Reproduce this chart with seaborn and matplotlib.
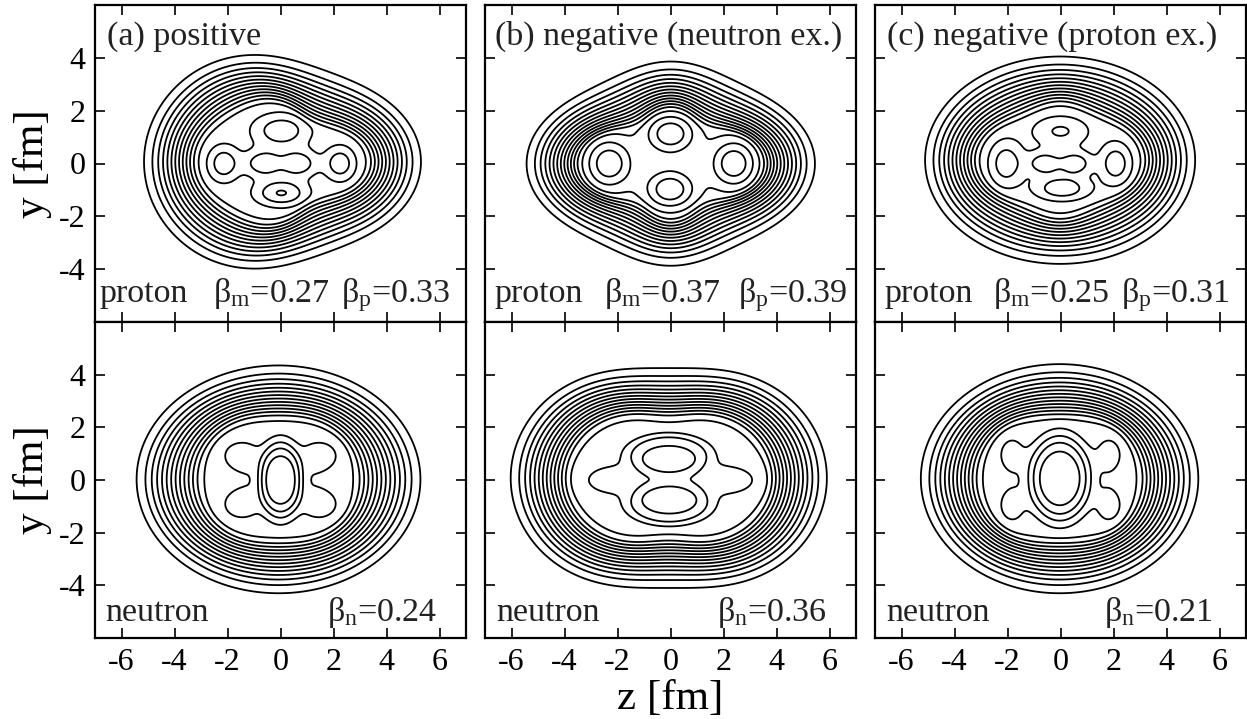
import numpy as np
import matplotlib
matplotlib.use("Agg")
import matplotlib.pyplot as plt
import seaborn as sns

sns.set_theme(style="ticks")
plt.rcParams["font.family"] = ["Liberation Serif", "DejaVu Serif"]
plt.rcParams["mathtext.fontset"] = "custom"
plt.rcParams["mathtext.rm"] = "Liberation Serif"
plt.rcParams["mathtext.it"] = "Liberation Serif:italic"
plt.rcParams["axes.unicode_minus"] = False

# ---------------- text / ticks ----------------
z_ticks = [-6, -4, -2, 0, 2, 4, 6]
y_ticks = [-4, -2, 0, 2, 4]
panel_titles = ["(a) positive", "(b) negative (neutron ex.)", "(c) negative (proton ex.)"]
beta_m = ["0.27", "0.37", "0.25"]
beta_p = ["0.33", "0.39", "0.31"]
beta_n = ["0.24", "0.36", "0.21"]

# contour levels (density, arbitrary units)
contour_levels = [0.07, 0.14, 0.21, 0.28, 0.35, 0.42, 0.49, 0.56, 0.63, 0.70,
                  0.77, 0.84, 0.91, 0.98, 1.05, 1.12, 1.19, 1.26, 1.33]

# ---------------- density shapes ----------------
# order: proton (a), proton (b), proton (c), neutron (a), neutron (b), neutron (c)
plateau = [0.925, 0.925, 0.925, 0.99, 0.99, 0.99]
# extent of the outermost contour [fm]
outer_zl = [-5.15, -5.43, -5.11, -5.43, -6.03, -5.27]
outer_zr = [5.30, 5.45, 5.08, 5.28, 5.90, 5.20]
outer_yt = [4.00, 3.86, 4.05, 4.35, 4.25, 4.40]
outer_yb = [-3.87, -3.87, -3.80, -4.30, -4.10, -4.30]
# width of the surface region along z, along y and extra width on the diagonals [fm]
surf_wz = [1.77, 1.70, 1.77, 2.29, 2.00, 2.02]
surf_wy = [1.40, 1.40, 1.48, 1.72, 1.55, 1.73]
surf_wd = [0.35, 0.30, 0.35, -0.20, 0.0, -0.20]
# shape of the outer contour
surf_c1 = [-0.05, 0.0, 0.0, 0.0, 0.0, 0.0]
surf_c3 = [0.05, 0.0, 0.0, 0.0, 0.0, 0.0]
surf_c4 = [0.0, 0.04, 0.0, 0.0, -0.03, 0.0]

# inner density maxima: position, height, widths, profile exponent
bump_z = [
    [0.03, 0.03, -2.15, 2.25, -0.65, 0.68],
    [0.0, -0.02, -2.33, 2.4, 0.0],
    [0.0, 0.06, -2.05, 2.08, -0.62, 0.56],
    [0.0, 0.0, -1.55, 1.55, -1.55, 1.55],
    [-0.07, -0.05, 0.0, -2.4, 2.4],
    [-0.03, 0.0, -1.85, 1.85, -1.85, 1.85],
]
bump_y = [
    [1.25, -1.12, 0.0, 0.0, 0.0, 0.0],
    [1.15, -1.0, 0.0, 0.0, 0.0],
    [1.22, -0.95, 0.0, 0.0, 0.0, 0.0],
    [0.0, 0.0, 0.95, 0.95, -0.95, -0.95],
    [1.02, -0.98, 0.0, 0.0, 0.0],
    [0.07, 0.0, 1.0, 1.0, -1.0, -1.0],
]
bump_amp = [
    [0.175, 0.20, 0.175, 0.175, 0.18, 0.18],
    [0.24, 0.24, 0.25, 0.25, 0.03],
    [0.135, 0.18, 0.175, 0.175, 0.175, 0.175],
    [0.255, 0.065, 0.075, 0.075, 0.075, 0.075],
    [0.19, 0.19, 0.135, 0.06, 0.06],
    [0.28, 0.04, 0.075, 0.075, 0.075, 0.075],
]
bump_wz = [
    [1.1, 1.0, 0.6, 0.58, 0.7, 0.7],
    [0.95, 0.95, 0.88, 0.85, 1.8],
    [1.1, 1.05, 0.65, 0.6, 0.62, 0.62],
    [0.8, 1.8, 0.8, 0.8, 0.8, 0.8],
    [1.6, 1.6, 2.4, 0.9, 0.9],
    [1.15, 2.2, 0.6, 0.6, 0.6, 0.6],
]
bump_wy = [
    [0.65, 0.5, 0.69, 0.65, 0.5, 0.5],
    [0.75, 0.72, 0.94, 0.9, 1.2],
    [0.6, 0.45, 0.86, 0.78, 0.45, 0.45],
    [1.45, 1.6, 0.65, 0.65, 0.65, 0.65],
    [0.75, 0.75, 0.85, 0.5, 0.5],
    [1.65, 1.7, 0.8, 0.8, 0.8, 0.8],
]
bump_pow = [
    [2, 2, 2, 2, 2, 2],
    [2, 2, 2, 2, 2],
    [2, 2, 2, 2, 2, 2],
    [4, 2, 2, 2, 2, 2],
    [4, 4, 2, 2, 2],
    [4, 2, 2, 2, 2, 2],
]

S1, S2 = 0.35, 0.10   # rounding of the outer and inner edge of the surface

z_grid = np.linspace(-7, 7, 701)
y_grid = np.linspace(-6, 6, 601)
ZZ, YY = np.meshgrid(z_grid, y_grid)


def density(i):
    zc = 0.5 * (outer_zl[i] + outer_zr[i])
    yc = 0.5 * (outer_yt[i] + outer_yb[i])
    az = 0.5 * (outer_zr[i] - outer_zl[i])
    ay = 0.5 * (outer_yt[i] - outer_yb[i])
    dz = ZZ - zc
    dy = YY - yc
    r = np.hypot(dz, dy)
    phi = np.arctan2(dy, dz)
    r_out = az * ay / np.sqrt((ay * np.cos(phi)) ** 2 + (az * np.sin(phi)) ** 2)
    r_out = r_out * (1 + surf_c1[i] * np.cos(phi) + surf_c3[i] * np.cos(3 * phi)
                     + surf_c4[i] * (np.cos(4 * phi) - 1))
    w = (surf_wz[i] * np.cos(phi) ** 2 + surf_wy[i] * np.sin(phi) ** 2
         + surf_wd[i] * np.sin(2 * phi) ** 2)
    f1 = contour_levels[0] / plateau[i]
    x_out = S1 * np.log(np.exp(f1 * w / S1) - 1.0)
    x = r_out + x_out - r          # depth below the surface
    f = (S1 * np.logaddexp(0, x / S1) - S2 * np.logaddexp(0, (x - w) / S2)) / w
    S = np.zeros_like(ZZ)
    for bz, by, A, wz, wy, p in zip(bump_z[i], bump_y[i], bump_amp[i],
                                    bump_wz[i], bump_wy[i], bump_pow[i]):
        q2 = ((ZZ - bz) / wz) ** 2 + ((YY - by) / wy) ** 2
        S += A * np.exp(-q2 ** (p / 2.0))
    return f * (plateau[i] + S)


# ---------------- layout (pixels of a 1247 x 719 canvas) ----------------
W, H = 1247.0, 719.0
col_left = [95, 485, 875]
col_width = 371
row_top = [5, 322]
row_height = [317, 316]

title_x = [-6.55, -6.63, -6.56]
proton_x = [-6.82, -6.63, -6.63]
bm_x = [-2.54, -2.52, -2.53]
bp_x = [2.27, 2.53, 2.27]
neutron_x = [-6.63, -6.56, -6.56]
bn_x = [1.77, 1.77, 1.64]

fs_text = 24.5
fs_tick = 23
fs_label = 31

fig = plt.figure(figsize=(W / 100, H / 100), dpi=100)
for r in range(2):
    for c in range(3):
        ax = fig.add_axes([col_left[c] / W, 1 - (row_top[r] + row_height[r]) / H,
                           col_width / W, row_height[r] / H])
        i = r * 3 + c
        rho = density(i)
        ax.contour(ZZ, YY, rho, levels=contour_levels, colors="black",
                   linewidths=1.3)
        ax.set_xlim(-7, 7)
        ax.set_ylim(-6, 6)
        ax.set_xticks(z_ticks)
        ax.set_yticks(y_ticks)
        ax.tick_params(direction="in", top=True, right=True, length=7.5,
                       width=1.2, labelsize=fs_tick, colors="black",
                       pad=7)
        for s in ax.spines.values():
            s.set_linewidth(1.6)
            s.set_color("black")
        if c != 0:
            ax.set_yticklabels([])
        else:
            ax.set_ylabel("y [fm]", fontsize=fs_label, color="black")
            ax.yaxis.set_label_coords(-0.115, 0.5)
        if r == 0:
            ax.set_xticklabels([])
            ax.text(title_x[c], 4.48, panel_titles[c], fontsize=fs_text,
                    ha="left", va="baseline", color="#222222")
            ax.text(proton_x[c], -5.26, "proton", fontsize=fs_text,
                    ha="left", va="baseline", color="#222222")
            ax.text(bm_x[c], -5.26, "β$_\\mathrm{m}$=" + beta_m[c],
                    fontsize=fs_text, ha="left", va="baseline", color="#222222")
            ax.text(bp_x[c], -5.26, "β$_\\mathrm{p}$=" + beta_p[c],
                    fontsize=fs_text, ha="left", va="baseline", color="#222222")
        else:
            ax.text(neutron_x[c], -5.37, "neutron", fontsize=fs_text,
                    ha="left", va="baseline", color="#222222")
            ax.text(bn_x[c], -5.37, "β$_\\mathrm{n}$=" + beta_n[c],
                    fontsize=fs_text, ha="left", va="baseline", color="#222222")
            if c == 1:
                ax.set_xlabel("z [fm]", fontsize=fs_label, color="black")
                ax.xaxis.set_label_coords(0.5, -0.13)

fig.savefig("out.png", dpi=100)
